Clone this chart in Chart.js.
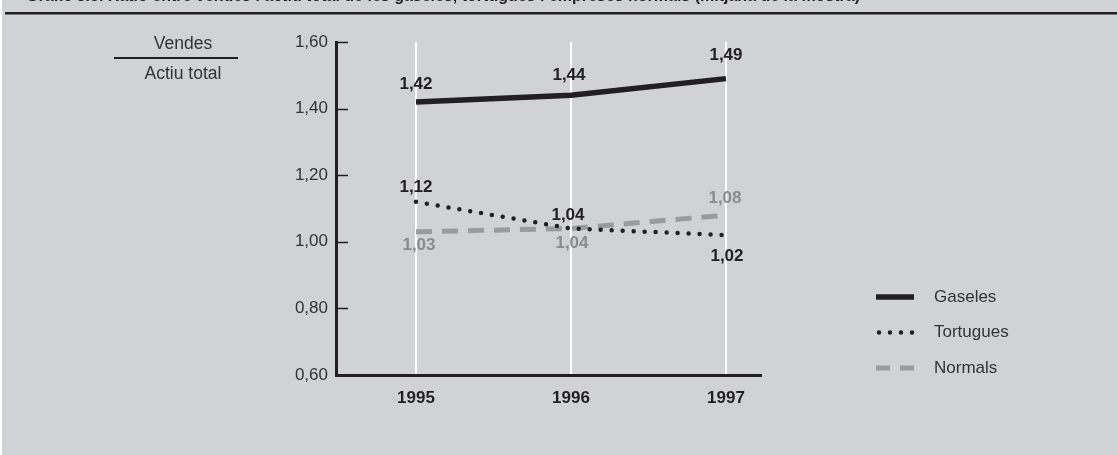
<!DOCTYPE html>
<html>
<head>
<meta charset="utf-8">
<script src="https://cdn.jsdelivr.net/npm/chart.js@4/dist/chart.umd.min.js"></script>
<style>
  html, body { margin: 0; padding: 0; background: #ffffff; }
  #wrap { position: absolute; left: 2px; top: 0; width: 1115px; height: 455px; background: #d1d2d4; }
  canvas { display: block; }
</style>
</head>
<body>
<div id="wrap"><canvas id="c" width="1115" height="455"></canvas></div>
<script>
// Ràtio vendes / actiu total, 1995-1997
const years = [1995, 1996, 1997];
const gaseles = [1.42, 1.44, 1.49];
const tortugues = [1.12, 1.04, 1.02];
const normals = [1.03, 1.04, 1.08];
const yTicks = [0.60, 0.80, 1.00, 1.20, 1.40, 1.60];
const seriesNames = ['Gaseles', 'Tortugues', 'Normals'];
const titleText = "Gràfic 3.5. Ràtio entre vendes i actiu total de les gaseles, tortugues i empreses normals (mitjana de la mostra)";

const FONT = '"Liberation Sans", Arial, Helvetica, sans-serif';
const fmt = v => v.toFixed(2).replace('.', ',');
const pts = arr => years.map((y, i) => ({ x: y, y: arr[i] }));

const datasets = [
  { label: seriesNames[0], data: pts(gaseles), borderColor: '#231f20', borderWidth: 5.5,
    borderDash: [], borderCapStyle: 'butt', labelColor: '#231f20',
    labelOffsets: [[0, -18], [-2, -20], [0, -23]] },
  { label: seriesNames[1], data: pts(tortugues), borderColor: '#231f20', borderWidth: 4.5,
    borderDash: [0, 11], borderCapStyle: 'round', labelColor: '#231f20',
    labelOffsets: [[0, -15], [-3, -13], [1, 21]] },
  { label: seriesNames[2], data: pts(normals), borderColor: '#9a9b9d', borderWidth: 5,
    borderDash: [16, 10], borderCapStyle: 'butt', labelColor: '#8a8b8d',
    labelOffsets: [[3, 14], [1, 15], [-1, -17]] }
];

const decor = {
  id: 'decor',
  beforeDraw(chart) {
    const ctx = chart.ctx;
    ctx.save();
    // cropped heading and rule
    ctx.fillStyle = '#231f20';
    ctx.font = 'bold 16px ' + FONT;
    ctx.textAlign = 'left';
    ctx.textBaseline = 'alphabetic';
    ctx.fillText(titleText, 24, 0.5);
    ctx.fillRect(3, 12, chart.width - 3, 2.5);
    ctx.restore();
  },
  afterDatasetsDraw(chart) {
    const ctx = chart.ctx;
    const xs = chart.scales.x, ys = chart.scales.y;
    const area = chart.chartArea;
    ctx.save();
    // inward tick marks on the value axis
    ctx.strokeStyle = '#231f20';
    ctx.lineWidth = 1.5;
    yTicks.forEach(v => {
      if (v === ys.min) return;
      const py = Math.round(ys.getPixelForValue(v)) + 0.5;
      ctx.beginPath();
      ctx.moveTo(area.left, py);
      ctx.lineTo(area.left + 12, py);
      ctx.stroke();
    });
    // value labels
    ctx.font = 'bold 17px ' + FONT;
    ctx.textAlign = 'center';
    ctx.textBaseline = 'middle';
    chart.data.datasets.forEach(ds => {
      ctx.fillStyle = ds.labelColor;
      ds.data.forEach((p, i) => {
        const [dx, dy] = ds.labelOffsets[i];
        ctx.fillText(fmt(p.y), xs.getPixelForValue(p.x) + dx, ys.getPixelForValue(p.y) + dy);
      });
    });
    // axis caption: Vendes / Actiu total
    ctx.fillStyle = '#333333';
    ctx.font = '17.5px ' + FONT;
    ctx.fillText('Vendes', 181, 44);
    ctx.fillText('Actiu total', 181, 74);
    ctx.fillStyle = '#231f20';
    ctx.fillRect(112, 57, 124, 2);
    // legend
    const lx0 = 874, lx1 = 912, ly0 = 297, step = 35.5;
    chart.data.datasets.forEach((ds, i) => {
      const y = ly0 + i * step;
      ctx.save();
      ctx.strokeStyle = ds.borderColor;
      ctx.lineWidth = ds.borderWidth;
      ctx.lineCap = ds.borderCapStyle;
      if (i === 1) ctx.setLineDash([0, 11]);
      else if (i === 2) ctx.setLineDash([14, 10]);
      ctx.beginPath();
      ctx.moveTo(i === 1 ? lx0 + 3 : lx0, y);
      ctx.lineTo(lx1, y);
      ctx.stroke();
      ctx.restore();
      ctx.fillStyle = '#333333';
      ctx.font = '17px ' + FONT;
      ctx.textAlign = 'left';
      ctx.fillText(ds.label, 932, y);
    });
    ctx.restore();
  }
};

new Chart(document.getElementById('c'), {
  type: 'line',
  data: { datasets },
  options: {
    responsive: false,
    animation: false,
    events: [],
    layout: { padding: { left: 234, right: 356, top: 42, bottom: 40 } },
    elements: { point: { radius: 0 }, line: { tension: 0 } },
    plugins: { legend: { display: false }, tooltip: { enabled: false } },
    scales: {
      x: {
        type: 'linear',
        min: 1994.484,
        max: 1997.226,
        afterBuildTicks: s => { s.ticks = years.map(v => ({ value: v })); },
        afterFit: s => { s.height = 40; },
        grid: { display: true, color: '#ffffff', lineWidth: 2, drawTicks: false },
        border: { display: true, color: '#231f20', width: 3 },
        ticks: {
          padding: 13,
          color: '#231f20',
          font: { family: FONT, size: 17, weight: 'bold' },
          callback: v => String(v)
        }
      },
      y: {
        min: 0.6,
        max: 1.6,
        afterBuildTicks: s => { s.ticks = yTicks.map(v => ({ value: v })); },
        afterFit: s => { s.width = 100; },
        grid: { display: false, drawTicks: false },
        border: { display: true, color: '#231f20', width: 3 },
        ticks: {
          padding: 8,
          color: '#333333',
          font: { family: FONT, size: 17 },
          callback: v => fmt(v)
        }
      }
    }
  },
  plugins: [decor]
});
</script>
</body>
</html>
